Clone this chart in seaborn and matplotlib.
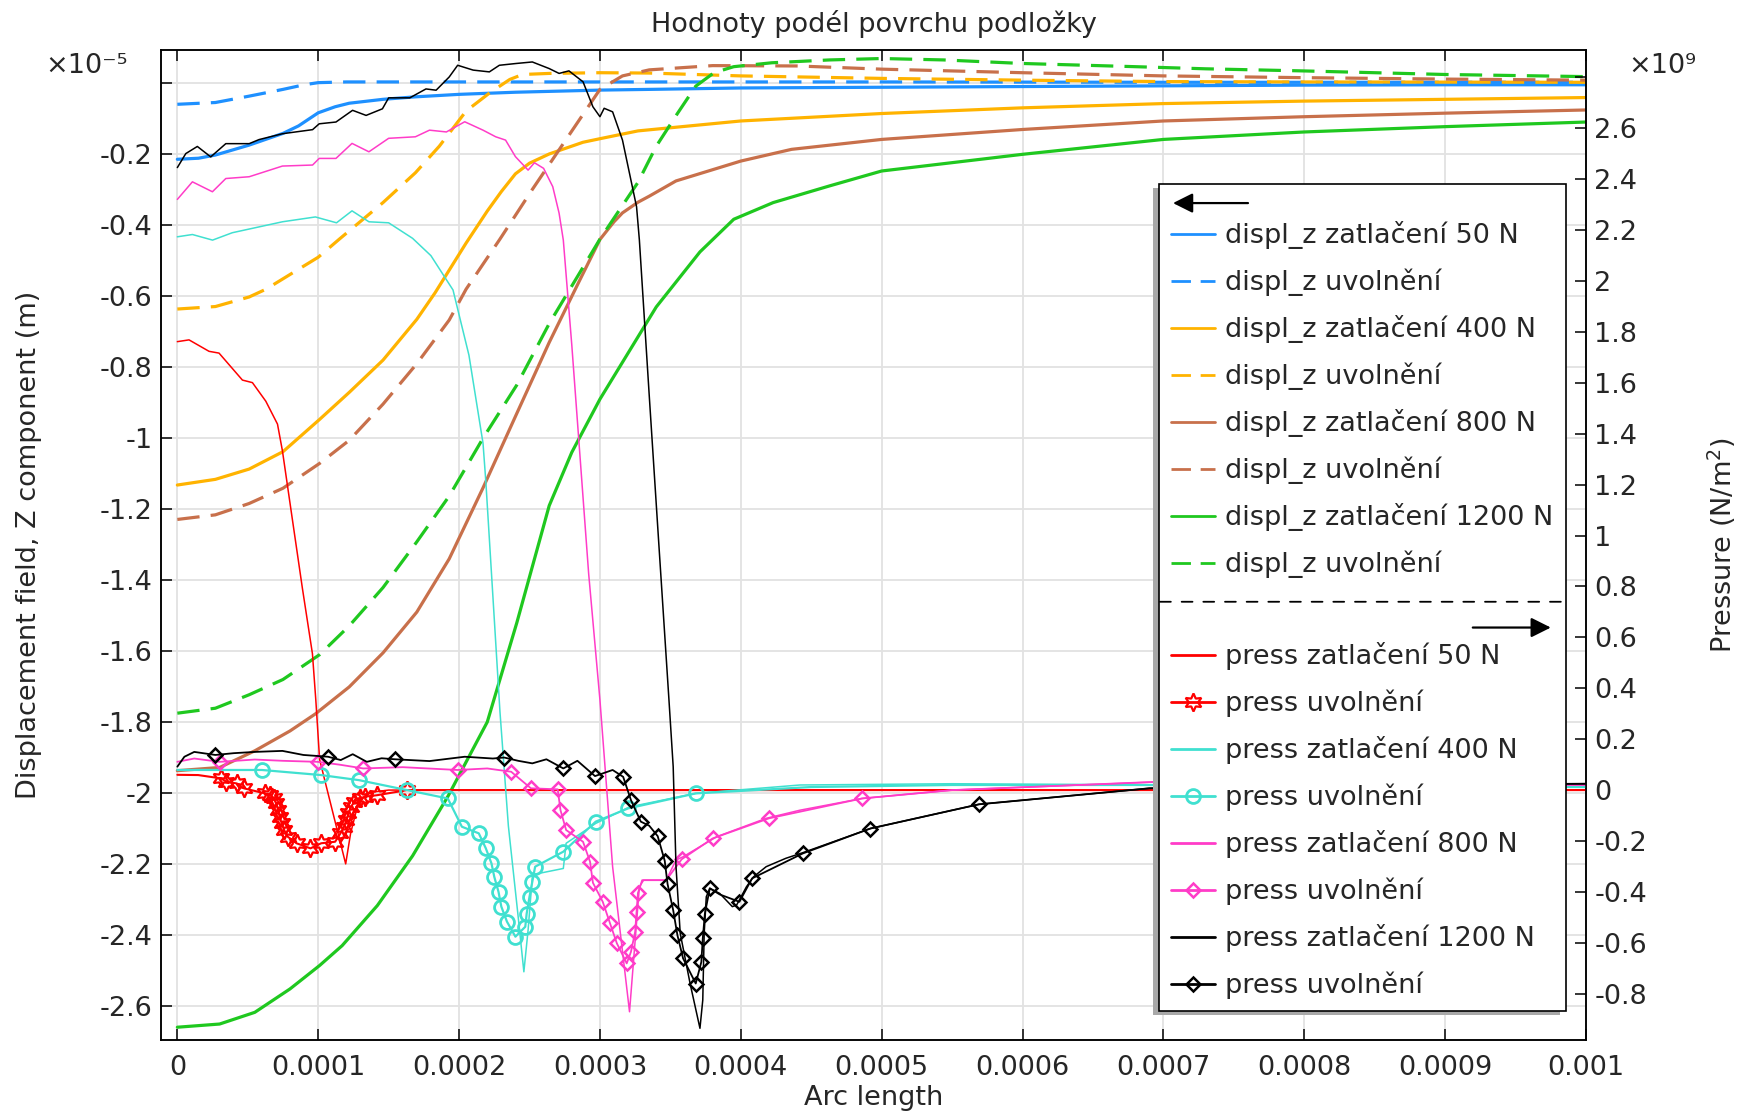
import numpy as np
import matplotlib
matplotlib.use("Agg")
import matplotlib.pyplot as plt
import seaborn as sns
from matplotlib.lines import Line2D
from matplotlib.patches import Rectangle
from matplotlib.transforms import IdentityTransform

# ---------------- data (arc length in 1e-4 m, displacement in 1e-5 m, pressure in 1e9 N/m^2)
arc_d50_z = [0, 0.15, 0.27, 0.51, 0.75, 0.86, 1.0, 1.12, 1.22, 1.46, 1.69, 2.0, 2.4, 3.0, 3.35, 4.0, 5.0, 6.0, 7.0, 8.0, 9.0, 10.0]
disp_d50_z = [-0.214, -0.211, -0.202, -0.174, -0.141, -0.120, -0.083, -0.066, -0.056, -0.045, -0.038, -0.031, -0.025, -0.019, -0.017, -0.013, -0.011, -0.009, -0.007, -0.005, -0.004, -0.004]
arc_d50_u = [0, 0.27, 0.51, 0.75, 0.9, 1.0, 1.2, 1.5, 3.0, 5.0, 7.0, 10.0]
disp_d50_u = [-0.059, -0.054, -0.036, -0.017, -0.004, 0.002, 0.004, 0.004, 0.004, 0.004, 0.003, 0.003]
arc_d400_z = [0, 0.27, 0.51, 0.75, 1.01, 1.22, 1.46, 1.70, 1.83, 2.05, 2.2, 2.3, 2.4, 2.5, 2.64, 2.88, 3.0, 3.27, 4.0, 5.0, 6.0, 7.0, 8.0, 9.0, 10.0]
disp_d400_z = [-1.132, -1.116, -1.087, -1.038, -0.947, -0.871, -0.780, -0.665, -0.590, -0.45, -0.36, -0.305, -0.255, -0.225, -0.199, -0.166, -0.156, -0.134, -0.106, -0.085, -0.069, -0.057, -0.050, -0.045, -0.040]
arc_d400_u = [0, 0.27, 0.51, 0.63, 1.0, 1.15, 1.46, 1.69, 1.86, 2.05, 2.22, 2.36, 2.45, 2.64, 3.0, 3.35, 4.0, 5.0, 6.0, 7.0, 8.0, 10.0]
disp_d400_u = [-0.636, -0.629, -0.602, -0.580, -0.49, -0.439, -0.336, -0.252, -0.177, -0.078, -0.026, 0.011, 0.025, 0.028, 0.030, 0.029, 0.021, 0.014, 0.009, 0.005, 0.004, 0.003]
arc_d800_z = [0, 0.30, 0.55, 0.80, 0.98, 1.22, 1.46, 1.70, 1.93, 2.17, 2.41, 2.64, 2.85, 3.0, 3.1, 3.16, 3.27, 3.35, 3.54, 4.0, 4.36, 5.0, 6.0, 7.0, 8.0, 9.0, 10.0]
disp_d800_z = [-1.937, -1.928, -1.881, -1.825, -1.777, -1.701, -1.605, -1.49, -1.34, -1.14, -0.93, -0.73, -0.56, -0.44, -0.39, -0.365, -0.335, -0.318, -0.275, -0.219, -0.186, -0.158, -0.130, -0.106, -0.094, -0.084, -0.075]
arc_d800_u = [0, 0.27, 0.51, 0.75, 1.01, 1.22, 1.46, 1.70, 1.93, 2.05, 2.29, 2.52, 2.76, 3.0, 3.16, 3.35, 3.8, 4.4, 5.0, 6.0, 7.0, 8.0, 9.0, 10.0]
disp_d800_u = [-1.229, -1.216, -1.184, -1.141, -1.071, -1.006, -0.904, -0.790, -0.667, -0.58, -0.439, -0.299, -0.158, -0.017, 0.021, 0.038, 0.050, 0.049, 0.040, 0.030, 0.021, 0.016, 0.012, 0.009]
arc_d1200_z = [0, 0.30, 0.55, 0.80, 1.01, 1.17, 1.42, 1.67, 1.92, 2.2, 2.41, 2.64, 2.8, 3.0, 3.2, 3.4, 3.6, 3.71, 3.95, 4.23, 4.63, 5.0, 6.0, 7.0, 8.0, 9.0, 10.0]
disp_d1200_z = [-2.66, -2.651, -2.618, -2.552, -2.486, -2.430, -2.317, -2.177, -2.01, -1.80, -1.52, -1.19, -1.04, -0.89, -0.76, -0.63, -0.53, -0.475, -0.383, -0.336, -0.289, -0.247, -0.200, -0.158, -0.137, -0.122, -0.109]
arc_d1200_u = [0, 0.27, 0.51, 0.75, 1.01, 1.22, 1.46, 1.70, 1.93, 2.17, 2.41, 2.64, 3.0, 3.27, 3.40, 3.55, 3.68, 3.81, 3.95, 4.22, 4.63, 5.0, 5.44, 6.0, 6.8, 7.3, 8.0, 9.0, 10.0]
disp_d1200_u = [-1.775, -1.761, -1.723, -1.68, -1.61, -1.529, -1.421, -1.292, -1.163, -1.0, -0.85, -0.677, -0.439, -0.279, -0.177, -0.085, -0.008, 0.030, 0.047, 0.058, 0.066, 0.070, 0.066, 0.056, 0.047, 0.041, 0.035, 0.025, 0.019]

arc_p50_z = [0, 0.083, 0.225, 0.296, 0.462, 0.533, 0.628, 0.711, 0.746, 0.817, 0.888, 0.959, 0.983, 1.01, 1.055, 1.195, 1.23, 1.28, 1.35, 1.5, 3.0, 6.0, 10.0]
pres_p50_z = [1.762, 1.769, 1.724, 1.717, 1.611, 1.601, 1.528, 1.438, 1.333, 1.062, 0.792, 0.536, 0.354, 0.12, 0.02, -0.29, -0.17, -0.06, -0.01, 0.0, 0.0, 0.0, 0.0]
arc_p50_u = [0, 0.148, 0.310, 0.348, 0.422, 0.472, 0.621, 0.659, 0.684, 0.701, 0.716, 0.726, 0.741, 0.758, 0.783, 0.846, 0.945, 1.021, 1.120, 1.158, 1.183, 1.200, 1.215, 1.232, 1.257, 1.294, 1.332, 1.419, 1.631, 3.0, 6.0, 10.0]
pres_p50_u = [0.060, 0.059, 0.046, 0.033, 0.026, 0.007, -0.013, -0.020, -0.033, -0.052, -0.079, -0.105, -0.131, -0.157, -0.183, -0.209, -0.229, -0.209, -0.203, -0.170, -0.144, -0.118, -0.092, -0.066, -0.046, -0.033, -0.026, -0.020, 0.000, 0.0, 0.0, 0.0]
arc_p400_z = [0, 0.107, 0.25, 0.39, 0.746, 0.98, 1.13, 1.24, 1.36, 1.50, 1.67, 1.80, 1.957, 2.07, 2.17, 2.19, 2.24, 2.29, 2.35, 2.42, 2.46, 2.49, 2.52, 2.57, 2.74, 2.76, 2.97, 3.21, 3.68, 4.42, 5.5, 7.0, 8.5, 10.0]
pres_p400_z = [2.174, 2.183, 2.161, 2.19, 2.233, 2.252, 2.229, 2.276, 2.233, 2.229, 2.168, 2.10, 1.965, 1.709, 1.363, 1.212, 0.762, 0.31, -0.141, -0.50, -0.714, -0.55, -0.341, -0.327, -0.308, -0.209, -0.131, -0.066, -0.013, 0.020, 0.025, 0.02, 0.015, 0.012]
arc_p400_u = [0, 0.60, 1.02, 1.29, 1.63, 1.92, 2.02, 2.14, 2.19, 2.23, 2.25, 2.28, 2.30, 2.34, 2.40, 2.47, 2.48, 2.50, 2.52, 2.54, 2.74, 2.97, 3.20, 3.68, 4.5, 5.5, 7.0, 8.5, 10.0]
pres_p400_u = [0.079, 0.079, 0.059, 0.039, 0.0, -0.033, -0.144, -0.170, -0.229, -0.288, -0.341, -0.40, -0.458, -0.517, -0.576, -0.537, -0.485, -0.419, -0.360, -0.301, -0.242, -0.124, -0.072, -0.013, 0.012, 0.02, 0.02, 0.015, 0.012]
arc_p800_z = [0, 0.107, 0.249, 0.344, 0.51, 0.746, 0.96, 1.007, 1.126, 1.24, 1.36, 1.50, 1.69, 1.79, 1.91, 2.04, 2.17, 2.26, 2.33, 2.40, 2.49, 2.535, 2.60, 2.665, 2.71, 2.74, 2.80, 2.86, 2.92, 3.0, 3.09, 3.21, 3.28, 3.31, 3.47, 3.54, 3.59, 3.83, 4.18, 4.42, 4.86, 5.5, 7.0, 8.5, 10.0]
pres_p800_z = [2.321, 2.39, 2.351, 2.403, 2.41, 2.452, 2.456, 2.482, 2.482, 2.541, 2.508, 2.561, 2.567, 2.593, 2.586, 2.626, 2.593, 2.567, 2.554, 2.489, 2.436, 2.465, 2.443, 2.371, 2.267, 2.161, 1.75, 1.30, 0.85, 0.354, -0.301, -0.871, -0.38, -0.354, -0.354, -0.275, -0.262, -0.183, -0.111, -0.079, -0.033, 0.0, 0.033, 0.025, 0.02]
arc_p800_u = [0, 0.12, 0.30, 0.55, 0.75, 0.996, 1.15, 1.32, 1.6, 1.99, 2.2, 2.37, 2.51, 2.70, 2.72, 2.76, 2.88, 2.93, 2.95, 3.02, 3.07, 3.12, 3.19, 3.22, 3.25, 3.26, 3.27, 3.30, 3.47, 3.58, 3.80, 4.20, 4.86, 5.5, 6.98, 8.5, 10.0]
pres_p800_u = [0.111, 0.124, 0.111, 0.12, 0.115, 0.111, 0.10, 0.085, 0.09, 0.079, 0.085, 0.072, 0.007, 0.003, -0.079, -0.157, -0.203, -0.282, -0.364, -0.439, -0.521, -0.602, -0.681, -0.636, -0.557, -0.478, -0.404, -0.354, -0.354, -0.272, -0.19, -0.111, -0.033, 0.0, 0.033, 0.025, 0.02]
arc_p1200_z = [0, 0.06, 0.142, 0.237, 0.344, 0.51, 0.58, 0.746, 0.96, 1.007, 1.126, 1.244, 1.34, 1.456, 1.50, 1.65, 1.765, 1.837, 1.93, 1.99, 2.10, 2.215, 2.286, 2.405, 2.52, 2.64, 2.71, 2.78, 2.88, 2.95, 3.0, 3.03, 3.09, 3.16, 3.21, 3.26, 3.28, 3.35, 3.42, 3.49, 3.52, 3.54, 3.57, 3.64, 3.71, 3.73, 3.74, 3.755, 3.78, 3.85, 3.94, 3.97, 4.04, 4.09, 4.18, 4.32, 4.44, 4.92, 5.69, 6.9, 8.5, 10.0]
pres_p1200_z = [2.446, 2.501, 2.529, 2.488, 2.54, 2.54, 2.556, 2.579, 2.595, 2.618, 2.625, 2.671, 2.651, 2.677, 2.72, 2.72, 2.755, 2.75, 2.802, 2.848, 2.829, 2.822, 2.848, 2.855, 2.861, 2.835, 2.816, 2.826, 2.783, 2.685, 2.646, 2.679, 2.665, 2.554, 2.423, 2.292, 2.161, 1.55, 0.95, 0.354, 0.092, -0.301, -0.563, -0.76, -0.936, -0.825, -0.563, -0.419, -0.386, -0.406, -0.458, -0.452, -0.38, -0.341, -0.301, -0.268, -0.246, -0.151, -0.056, 0.007, 0.02, 0.025]
arc_p1200_u = [0, 0.05, 0.12, 0.27, 0.40, 0.55, 0.746, 0.895, 1.07, 1.16, 1.245, 1.345, 1.45, 1.545, 1.79, 2.04, 2.24, 2.32, 2.42, 2.52, 2.62, 2.74, 2.84, 2.965, 3.09, 3.165, 3.22, 3.29, 3.35, 3.41, 3.46, 3.48, 3.52, 3.55, 3.59, 3.68, 3.72, 3.73, 3.745, 3.78, 3.85, 3.99, 4.08, 4.44, 4.92, 5.69, 6.9, 8.5, 10.0]
pres_p1200_u = [0.092, 0.131, 0.15, 0.138, 0.145, 0.15, 0.154, 0.138, 0.131, 0.118, 0.141, 0.111, 0.125, 0.121, 0.114, 0.131, 0.124, 0.128, 0.115, 0.105, 0.121, 0.085, 0.115, 0.055, 0.079, 0.052, -0.039, -0.124, -0.14, -0.181, -0.278, -0.369, -0.472, -0.57, -0.661, -0.76, -0.675, -0.583, -0.485, -0.386, -0.41, -0.439, -0.347, -0.249, -0.151, -0.056, 0.007, 0.02, 0.025]

disp_labels = ["displ_z zatlačení 50 N", "displ_z uvolnění", "displ_z zatlačení 400 N", "displ_z uvolnění",
               "displ_z zatlačení 800 N", "displ_z uvolnění", "displ_z zatlačení 1200 N", "displ_z uvolnění"]
pres_labels = ["press zatlačení 50 N", "press uvolnění", "press zatlačení 400 N", "press uvolnění",
               "press zatlačení 800 N", "press uvolnění", "press zatlačení 1200 N", "press uvolnění"]
x_ticks_e4 = list(range(0, 11))
x_tick_labels = ["0", "0.0001", "0.0002", "0.0003", "0.0004", "0.0005", "0.0006", "0.0007", "0.0008", "0.0009", "0.001"]
left_ticks = [0, -0.2, -0.4, -0.6, -0.8, -1.0, -1.2, -1.4, -1.6, -1.8, -2.0, -2.2, -2.4, -2.6]
left_tick_labels = ["", "-0.2", "-0.4", "-0.6", "-0.8", "-1", "-1.2", "-1.4", "-1.6", "-1.8", "-2", "-2.2", "-2.4", "-2.6"]
right_ticks = [-0.8, -0.6, -0.4, -0.2, 0, 0.2, 0.4, 0.6, 0.8, 1.0, 1.2, 1.4, 1.6, 1.8, 2.0, 2.2, 2.4, 2.6, 2.8]
right_tick_labels = ["-0.8", "-0.6", "-0.4", "-0.2", "0", "0.2", "0.4", "0.6", "0.8", "1", "1.2", "1.4", "1.6", "1.8", "2", "2.2", "2.4", "2.6", ""]

# ---------------- style
sns.set_theme(style="white")
plt.rcParams["font.family"] = ["DejaVu Sans"]
plt.rcParams["mathtext.fontset"] = "dejavusans"
TXT = "#262626"
FS = 19.5
C_BLUE, C_ORANGE, C_BROWN, C_GREEN = "#1E90FF", "#FFB300", "#C8704B", "#1FC81F"
C_RED, C_TEAL, C_PINK, C_BLACK = "#FF0000", "#40E0D0", "#FF3CC8", "#000000"
DASH = (0, (7, 3.5))
LW_D = 2.3
LW_P = 1.1

fig = plt.figure(figsize=(17.39, 11.14), dpi=100, facecolor="white")
ax = fig.add_axes([161 / 1739, 74 / 1114, 1425 / 1739, 990 / 1114])
ax2 = ax.twinx()


def draw(axis, xs, ys, **kw):
    sns.lineplot(x=np.asarray(xs) * 1e-4, y=ys, ax=axis, estimator=None, sort=False,
                 legend=False, errorbar=None, **kw)


disp_series = [
    (arc_d50_z, disp_d50_z, C_BLUE, "-"), (arc_d50_u, disp_d50_u, C_BLUE, DASH),
    (arc_d400_z, disp_d400_z, C_ORANGE, "-"), (arc_d400_u, disp_d400_u, C_ORANGE, DASH),
    (arc_d800_z, disp_d800_z, C_BROWN, "-"), (arc_d800_u, disp_d800_u, C_BROWN, DASH),
    (arc_d1200_z, disp_d1200_z, C_GREEN, "-"), (arc_d1200_u, disp_d1200_u, C_GREEN, DASH),
]
disp_handles = []
for xs, ys, c, ls in disp_series:
    draw(ax, xs, ys, color=c, linewidth=LW_D, linestyle=ls)
    disp_handles.append(Line2D([], [], color=c, lw=2.0, linestyle=ls))

STAR = (6, 1, 0)
pres_series = [
    (arc_p50_z, pres_p50_z, C_RED, dict(linewidth=LW_P)),
    (arc_p50_u, pres_p50_u, C_RED, dict(linewidth=1.5, marker=STAR, markersize=13, markerfacecolor="none",
                                        markeredgecolor=C_RED, markeredgewidth=1.6, markevery=slice(2, 29))),
    (arc_p400_z, pres_p400_z, C_TEAL, dict(linewidth=LW_P)),
    (arc_p400_u, pres_p400_u, C_TEAL, dict(linewidth=1.6, marker="o", markersize=10, markerfacecolor="none",
                                          markeredgecolor=C_TEAL, markeredgewidth=2.0, markevery=slice(1, 24))),
    (arc_p800_z, pres_p800_z, C_PINK, dict(linewidth=LW_P)),
    (arc_p800_u, pres_p800_u, C_PINK, dict(linewidth=1.3, marker="D", markersize=7, markerfacecolor="none",
                                          markeredgecolor=C_PINK, markeredgewidth=1.8,
                                          markevery=[2, 5, 7, 9, 11, 12, 13, 14, 15, 16, 17, 18, 19, 20, 21, 22, 23, 24, 25, 26, 29, 30, 31, 32])),
    (arc_p1200_z, pres_p1200_z, C_BLACK, dict(linewidth=LW_P)),
    (arc_p1200_u, pres_p1200_u, C_BLACK, dict(linewidth=1.3, marker="D", markersize=7, markerfacecolor="none",
                                             markeredgecolor=C_BLACK, markeredgewidth=1.8,
                                             markevery=[3, 8, 13, 17, 21, 23, 25, 26, 27, 29, 30, 31, 32, 33, 34, 35, 36, 37, 38, 39, 41, 42, 43, 44, 45])),
]
pres_handles = []
for xs, ys, c, kw in pres_series:
    draw(ax2, xs, ys, color=c, **kw)
    hk = {k: v for k, v in kw.items() if k != "markevery"}
    hk["linewidth"] = 2.0
    pres_handles.append(Line2D([], [], color=c, **hk))

# ---------------- axes
ax.set_xlim(-1.16e-5, 1.0e-3)
ax.set_ylim(-2.696, 0.094)
ax2.set_ylim(-0.982, 2.908)
ax.set_xticks(np.asarray(x_ticks_e4) * 1e-4)
ax.set_xticklabels(x_tick_labels)
ax.set_yticks(left_ticks)
ax.set_yticklabels(left_tick_labels)
ax2.set_yticks(right_ticks)
ax2.set_yticklabels(right_tick_labels)

ax.tick_params(axis="x", direction="in", length=8, width=1.1, top=True, bottom=True,
               labelsize=FS, pad=11, colors="black", labelcolor=TXT)
ax.tick_params(axis="y", direction="in", length=8, width=1.1, left=True, right=False,
               labelsize=FS, pad=6, colors="black", labelcolor=TXT)
ax2.tick_params(axis="y", direction="in", length=8, width=1.1, right=True, left=False,
                labelright=True, labelleft=False, labelsize=FS, pad=6, colors="black", labelcolor=TXT)
for a in (ax, ax2):
    for s in a.spines.values():
        s.set_color("black")
        s.set_linewidth(1.1)
ax.grid(True, color="#e2e2e2", linewidth=1.3)
ax2.grid(False)
ax.set_axisbelow(True)

ax.set_title("Hodnoty podél povrchu podložky", fontsize=FS, color=TXT, y=1.0259, pad=0, va="center")
ax.set_xlabel("Arc length", fontsize=FS, color=TXT, va="center")
ax.xaxis.set_label_coords(0.5, -0.0586)
ax.set_ylabel("Displacement field, Z component (m)", fontsize=FS, color=TXT, va="center")
ax.yaxis.set_label_coords(-0.0928, 0.5)
ax2.set_ylabel("Pressure (N/m$^2$)", fontsize=FS, color=TXT, va="center")
ax2.yaxis.set_label_coords(1.0955, 0.5)

fig.text(87 / 1739, 1 - 66 / 1114, "×10⁻⁵", fontsize=FS, color=TXT, ha="center", va="center")
fig.text(1662 / 1739, 1 - 66 / 1114, "×10⁹", fontsize=FS, color=TXT, ha="center", va="center")

# ---------------- legend
blank = Line2D([], [], color="none", lw=0)
handles = disp_handles + [blank] + pres_handles
labels = disp_labels + [""] + pres_labels
leg = ax2.legend(handles, labels, loc="upper left", bbox_to_anchor=(1159 / 1739, 1 - 184 / 1114),
                 bbox_transform=fig.transFigure, fontsize=FS, title=" ", title_fontsize=5,
                 frameon=True, fancybox=False, framealpha=1, edgecolor="black",
                 borderpad=0.45, labelspacing=0.71, handlelength=1.63, handletextpad=0.37,
                 borderaxespad=0, numpoints=1)
leg.get_frame().set_linewidth(1.2)
leg.set_zorder(10)
for t in leg.get_texts():
    t.set_color(TXT)

fig.canvas.draw()
r = fig.canvas.get_renderer()
bb = leg.get_window_extent(r)
texts = leg.get_texts()


def cy(t):
    e = t.get_window_extent(r)
    return 0.5 * (e.y0 + e.y1)


row1 = cy(texts[0])
row8 = cy(texts[7])
row17 = cy(texts[16])
pitch = (row1 - row17) / 16.0

shadow = Rectangle((bb.x0 - 6, bb.y0 - 4), bb.width, bb.height, transform=IdentityTransform(),
                   facecolor="#a8a8a8", edgecolor="none", zorder=9, clip_on=False)
ax2.add_artist(shadow)

arrow_kw = dict(arrowstyle="-|>,head_length=0.6,head_width=0.3", color="black", lw=1.6,
                mutation_scale=20, shrinkA=0, shrinkB=0)
ya = row1 + 0.69 * pitch
ax2.annotate("", xy=(bb.x0 + 14, ya), xytext=(bb.x0 + 89, ya), xycoords="figure pixels",
             textcoords="figure pixels", arrowprops=arrow_kw, annotation_clip=False, zorder=11)
ys = row8 - 0.80 * pitch
ax2.annotate("", xy=(bb.x1 - 1, ys), xytext=(bb.x0 + 1, ys), xycoords="figure pixels",
             textcoords="figure pixels",
             arrowprops=dict(arrowstyle="-", color="black", lw=1.3, linestyle=(0, (6, 6)),
                             shrinkA=0, shrinkB=0),
             annotation_clip=False, zorder=11)
yr = row8 - 1.35 * pitch
ax2.annotate("", xy=(bb.x1 - 15, yr), xytext=(bb.x1 - 93, yr), xycoords="figure pixels",
             textcoords="figure pixels", arrowprops=arrow_kw, annotation_clip=False, zorder=11)

fig.savefig("out.png", dpi=100, facecolor="white")
